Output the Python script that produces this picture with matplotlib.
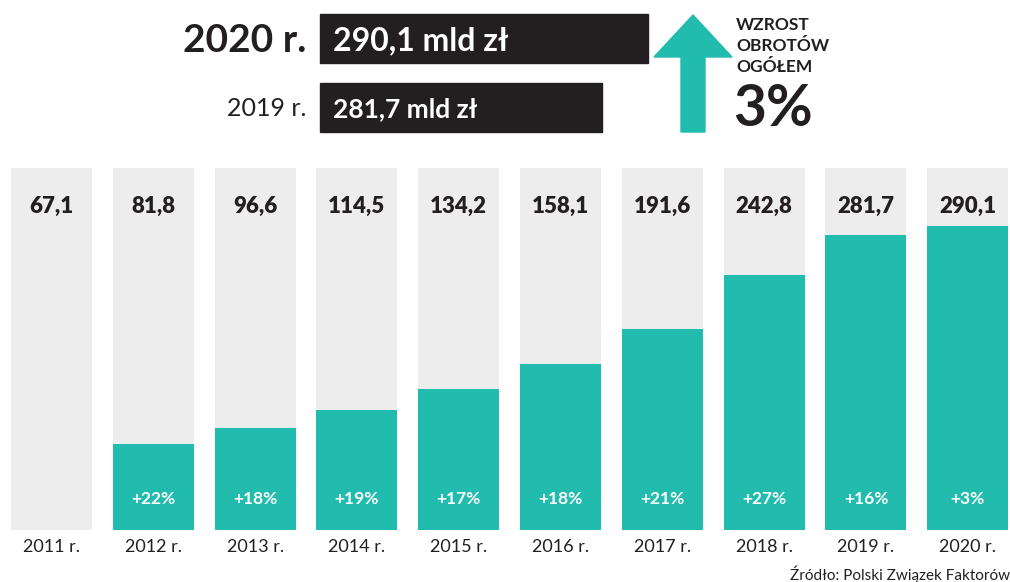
import matplotlib.pyplot as plt
from matplotlib.patches import Rectangle, Polygon

plt.rcParams['font.family'] = ['Lato', 'DejaVu Sans']

years = ['2011 r.', '2012 r.', '2013 r.', '2014 r.', '2015 r.',
         '2016 r.', '2017 r.', '2018 r.', '2019 r.', '2020 r.']
values = [67.1, 81.8, 96.6, 114.5, 134.2, 158.1, 191.6, 242.8, 281.7, 290.1]
growth = [None, 22, 18, 19, 17, 18, 21, 27, 16, 3]
value_labels = ['67,1', '81,8', '96,6', '114,5', '134,2',
                '158,1', '191,6', '242,8', '281,7', '290,1']
header_now = ('2020 r.', '290,1 mld zł')
header_prev = ('2019 r.', '281,7 mld zł')
total_growth = '3%'

TEAL = '#21bcad'
GREY = '#ededed'
DARK = '#231f20'
W, H = 1010, 582
YMAX = 345.4


def fx(px):
    return px / W


def fy(py):
    return 1 - py / H


fig = plt.figure(figsize=(W / 100, H / 100), dpi=100)
ax = fig.add_axes([0, fy(529.5), 1, (529.5 - 168) / H])
ax.set_xlim(-0.506, 9.415)
ax.set_ylim(0, YMAX)
ax.axis('off')

x = list(range(len(years)))
ax.bar(x, [YMAX] * len(x), width=0.796, color=GREY, zorder=1)
for i, (v, g) in enumerate(zip(values, growth)):
    if g is not None:
        ax.bar(i, v, width=0.796, color=TEAL, zorder=2)
        ax.text(i, 29, f'+{g}%', ha='center', va='center', color='white',
                fontsize=12.5, fontweight='bold', zorder=3)
    ax.text(i, YMAX - 37, value_labels[i], ha='center', va='center',
            color=DARK, fontsize=16, fontweight='heavy', zorder=3)
    ax.text(i, -17, years[i], ha='center', va='center', color=DARK,
            fontsize=13, clip_on=False)

fig.text(1.0, fy(574), 'Źródło: Polski Związek Faktorów', ha='right',
         va='center', color=DARK, fontsize=11)

# header boxes
fig.patches.append(Rectangle((fx(320), fy(63)), fx(648 - 320), 49 / H,
                             transform=fig.transFigure, color=DARK))
fig.patches.append(Rectangle((fx(320), fy(132)), fx(602 - 320), 49 / H,
                             transform=fig.transFigure, color=DARK))
fig.text(fx(306), fy(40), header_now[0], ha='right', va='center',
         color=DARK, fontsize=28, fontweight='bold')
fig.text(fx(333), fy(41), header_now[1], ha='left', va='center',
         color='white', fontsize=23, fontweight='bold')
fig.text(fx(306), fy(109), header_prev[0], ha='right', va='center',
         color=DARK, fontsize=18)
fig.text(fx(333), fy(109), header_prev[1], ha='left', va='center',
         color='white', fontsize=19, fontweight='bold')

# arrow
arrow = [(681, 132), (705, 132), (705, 57), (732, 57), (693, 15),
         (654, 57), (681, 57)]
fig.patches.append(Polygon([(fx(a), fy(b)) for a, b in arrow],
                           transform=fig.transFigure, color=TEAL))
fig.text(fx(736), fy(46), 'WZROST\nOBROTÓW\nOGÓŁEM', ha='left',
         va='center', color=DARK, fontsize=12.5, fontweight='bold',
         linespacing=1.38)
fig.text(fx(733), fy(110), total_growth, ha='left', va='center',
         color=DARK, fontsize=41, fontweight='bold')

fig.savefig('out.png', dpi=100)
